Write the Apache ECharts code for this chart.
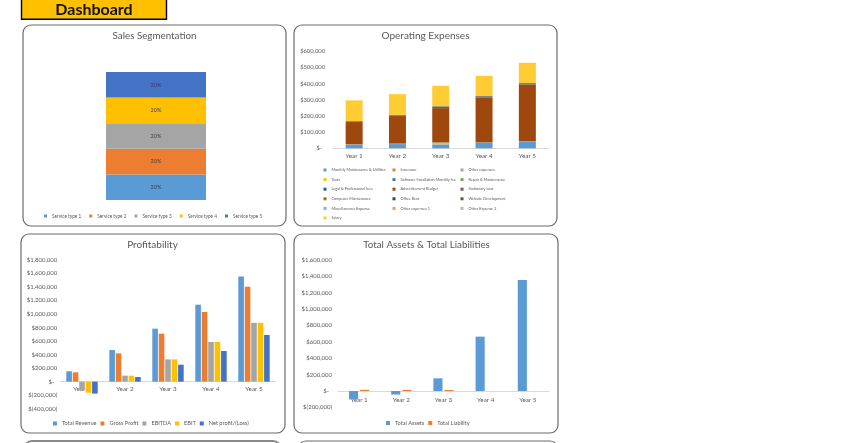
<!DOCTYPE html>
<html>
<head>
<meta charset="utf-8">
<script src="https://cdn.jsdelivr.net/npm/echarts@6/dist/echarts.min.js"></script>
<style>
html,body{margin:0;padding:0;background:#fff;}
#chart{width:850px;height:443px;}
</style>
</head>
<body>
<div id="chart"></div>
<script>
// ---------- DATA ----------
const years = ['Year 1', 'Year 2', 'Year 3', 'Year 4', 'Year 5'];

// Sales Segmentation (share %)
const serviceTypes = ['Service type 1', 'Service type 2', 'Service type 3', 'Service type 4', 'Service type 5'];
const serviceShare = [20, 20, 20, 20, 20];

// Operating Expenses (stack order = legend order)
const opexNames = [
  'Monthly Maintenance & Utilities', 'Insurance', 'Other expenses',
  'Tools', 'Software Installation Monthly fee', 'Repair & Maintenance',
  'Legal & Professional fees', 'Advertisement Budget', 'Stationary cost',
  'Computer Maintenance', 'Office Rent', 'Website Development',
  'Miscellaneous Expense', 'Other expenses 1', 'Other Expense 2',
  'Salary'
];
const monthlyMaintenance = [22000, 26000, 22000, 33000, 39000];
const insurance          = [1500, 1500, 1500, 1500, 1500];
const otherExpenses      = [1000, 1000, 3000, 1000, 1000];
const tools              = [0, 0, 8000, 0, 0];
const softwareFee        = [500, 500, 500, 500, 500];
const repairMaintenance  = [0, 0, 1000, 0, 0];
const legalFees          = [500, 500, 500, 1000, 1000];
const advertisement      = [137000, 170000, 212000, 276000, 349000];
const stationary         = [4000, 4000, 8000, 6000, 4000];
const computerMaint      = [1000, 1000, 1000, 1000, 1000];
const officeRent         = [1000, 2500, 2000, 2500, 5000];
const websiteDev         = [0, 0, 1000, 1000, 1000];
const miscExpense        = [0, 0, 0, 0, 0];
const otherExpenses1     = [0, 0, 0, 0, 0];
const otherExpense2      = [0, 0, 0, 0, 0];
const salary             = [128000, 128000, 126000, 125000, 126000];
const opexValues = [monthlyMaintenance, insurance, otherExpenses, tools, softwareFee,
  repairMaintenance, legalFees, advertisement, stationary, computerMaint, officeRent,
  websiteDev, miscExpense, otherExpenses1, otherExpense2, salary];

// Profitability
const profitNames = ['Total Revenue', 'Gross Profit', 'EBITDA', 'EBIT', 'Net profit/(Loss)'];
const totalRevenue = [153000, 468000, 784000, 1139000, 1556000];
const grossProfit  = [138000, 419000, 710000, 1031000, 1405000];
const ebitda       = [-130000, 89000, 330000, 587000, 871000];
const ebit         = [-163000, 89000, 330000, 587000, 871000];
const netProfit    = [-177000, 69000, 251000, 454000, 690000];
const profitValues = [totalRevenue, grossProfit, ebitda, ebit, netProfit];

// Total Assets & Total Liabilities
const balanceNames = ['Total Assets', 'Total Liability'];
const totalAssets    = [-102000, -43000, 155000, 664000, 1356000];
const totalLiability = [15000, 14000, 12000, 0, 0];

// ---------- STYLE ----------
const FONT = 'Lato, "Open Sans", sans-serif';
const TXT = '#595959';
const officeColors = ['#5B9BD5', '#ED7D31', '#A5A5A5', '#FFC000', '#4472C4', '#70AD47',
  '#255E91', '#9E480E', '#636363', '#997300', '#264478', '#43682B',
  '#7CAFDD', '#F1975A', '#B7B7B7', '#FFCD33'];

function acct(v) {
  if (v === 0) return '$-\u2002';
  const s = Math.abs(v).toLocaleString('en-US');
  return v < 0 ? '$(' + s + ')' : '$' + s;
}

const chart = echarts.init(document.getElementById('chart'), null, {renderer: 'canvas'});

function panel(x, y, w, h, stroke, lw) {
  return {type: 'rect', z: -10, shape: {x: x, y: y, width: w, height: h, r: 8},
    style: {fill: '#fff', stroke: stroke || '#6b6b6b', lineWidth: lw || 1.2}};
}
function titleText(text, x, y, size) {
  return {type: 'text', z: 10, x: x, y: y,
    style: {text: text, fill: TXT, font: (size || 10) + 'px ' + FONT,
      textAlign: 'center', textVerticalAlign: 'middle', align: 'center', verticalAlign: 'middle'}};
}

const yLabel = (size, margin) => ({color: TXT, fontSize: size, fontFamily: FONT, margin: margin, formatter: acct});
const xLabel = (size, margin) => ({color: TXT, fontSize: size, fontFamily: FONT, margin: margin});

const series = [];
serviceTypes.forEach((n, i) => {
  series.push({
    name: n, type: 'bar', stack: 'sales', xAxisIndex: 0, yAxisIndex: 0,
    barWidth: '100%', data: [serviceShare[i]],
    itemStyle: {color: ['#5B9BD5', '#ED7D31', '#A5A5A5', '#FFC000', '#4472C4'][i]},
    label: {show: true, position: 'inside', formatter: '{c}%', fontSize: 5.5, color: '#404040', fontFamily: FONT}
  });
});
opexNames.forEach((n, i) => {
  series.push({
    name: n, type: 'bar', stack: 'opex', xAxisIndex: 1, yAxisIndex: 1,
    barWidth: 17, data: opexValues[i], itemStyle: {color: officeColors[i]}
  });
});
profitNames.forEach((n, i) => {
  series.push({
    name: n, type: 'bar', xAxisIndex: 2, yAxisIndex: 2,
    barCategoryGap: '27%', barGap: '15%', data: profitValues[i],
    itemStyle: {color: ['#5B9BD5', '#ED7D31', '#A5A5A5', '#FFC000', '#4472C4'][i]}
  });
});
[totalAssets, totalLiability].forEach((d, i) => {
  series.push({
    name: balanceNames[i], type: 'bar', xAxisIndex: 3, yAxisIndex: 3,
    barCategoryGap: '52%', barGap: '22%', data: d,
    itemStyle: {color: ['#5B9BD5', '#ED7D31'][i]}
  });
});

const legendBase = {icon: 'rect', padding: 0, selectedMode: false,
  textStyle: {color: TXT, fontFamily: FONT}};

const option = {
  animation: false,
  backgroundColor: '#fff',
  graphic: [
    panel(23, 25, 263, 201),
    panel(294, 25, 263, 201),
    panel(21, 234, 264, 199),
    panel(294, 234, 264, 199),
    panel(24, 441, 257, 40, '#8a8a8a', 2),
    panel(298, 441, 260, 40),
    {type: 'rect', z: 5, shape: {x: 21.5, y: -3, width: 145, height: 22.3},
      style: {fill: '#FFC000', stroke: '#000', lineWidth: 1.4}},
    {type: 'text', z: 11, x: 94, y: 9.5,
      style: {text: 'Dashboard', fill: '#111', font: 'bold 16px ' + FONT,
        textAlign: 'center', textVerticalAlign: 'middle', align: 'center', verticalAlign: 'middle'}},
    titleText('Sales Segmentation', 154.5, 35.5, 9.8),
    titleText('Operating Expenses', 425.5, 35.5, 10),
    titleText('Profitability', 152.5, 245, 10),
    titleText('Total Assets & Total Liabilities', 426.5, 245, 9.8)
  ],
  legend: [
    Object.assign({}, legendBase, {data: serviceTypes, left: 44, top: 213.5, itemWidth: 3, itemHeight: 3, itemGap: 8,
      textStyle: {color: TXT, fontFamily: FONT, fontSize: 4.7}}),
    Object.assign({}, legendBase, {orient: 'vertical', left: 323.5, top: 167.5, itemWidth: 3, itemHeight: 3, itemGap: 4.6,
      data: [opexNames[0], opexNames[3], opexNames[6], opexNames[9], opexNames[12], opexNames[15]],
      textStyle: {color: TXT, fontFamily: FONT, fontSize: 3.8, lineHeight: 5}}),
    Object.assign({}, legendBase, {orient: 'vertical', left: 392.5, top: 167.5, itemWidth: 3, itemHeight: 3, itemGap: 4.6,
      data: [opexNames[1], opexNames[4], opexNames[7], opexNames[10], opexNames[13]],
      textStyle: {color: TXT, fontFamily: FONT, fontSize: 3.8, lineHeight: 5}}),
    Object.assign({}, legendBase, {orient: 'vertical', left: 460.5, top: 167.5, itemWidth: 3, itemHeight: 3, itemGap: 4.6,
      data: [opexNames[2], opexNames[5], opexNames[8], opexNames[11], opexNames[14]],
      textStyle: {color: TXT, fontFamily: FONT, fontSize: 3.8, lineHeight: 5}}),
    Object.assign({}, legendBase, {data: profitNames, left: 53, top: 420.5, itemWidth: 4, itemHeight: 4, itemGap: 4,
      textStyle: {color: TXT, fontFamily: FONT, fontSize: 5.6}}),
    Object.assign({}, legendBase, {data: balanceNames, left: 386, top: 420, itemWidth: 4, itemHeight: 4, itemGap: 4,
      textStyle: {color: TXT, fontFamily: FONT, fontSize: 5.6}})
  ],
  grid: [
    {left: 106, top: 72, width: 100, height: 128},
    {left: 332.5, top: 51.3, width: 216.5, height: 97},
    {left: 60.5, top: 260, width: 215, height: 148.7},
    {left: 338, top: 260, width: 211, height: 147.4}
  ],
  xAxis: [
    {type: 'category', gridIndex: 0, data: ['Sales'], show: false},
    {type: 'category', gridIndex: 1, data: years, axisTick: {show: false},
      axisLine: {lineStyle: {color: '#D9D9D9'}}, axisLabel: xLabel(6.3, 4.5)},
    {type: 'category', gridIndex: 2, data: years, axisTick: {show: false}, offset: -27,
      axisLine: {onZero: false, lineStyle: {color: '#D9D9D9'}}, axisLabel: xLabel(6.3, 4.5)},
    {type: 'category', gridIndex: 3, data: years, axisTick: {show: false}, offset: -16.4,
      axisLine: {onZero: false, lineStyle: {color: '#D9D9D9'}}, axisLabel: xLabel(6.3, 6)}
  ],
  yAxis: [
    {type: 'value', gridIndex: 0, min: 0, max: 100, show: false},
    {type: 'value', gridIndex: 1, min: 0, max: 600000, interval: 100000,
      splitLine: {show: false}, axisLine: {show: false}, axisTick: {show: false}, axisLabel: yLabel(5.8, 7.5)},
    {type: 'value', gridIndex: 2, min: -400000, max: 1800000, interval: 200000,
      splitLine: {show: false}, axisLine: {show: false}, axisTick: {show: false}, axisLabel: yLabel(6, 3.2)},
    {type: 'value', gridIndex: 3, min: -200000, max: 1600000, interval: 200000,
      splitLine: {show: false}, axisLine: {show: false}, axisTick: {show: false}, axisLabel: yLabel(6, 6)}
  ],
  series: series
};
chart.setOption(option);
</script>
</body>
</html>
